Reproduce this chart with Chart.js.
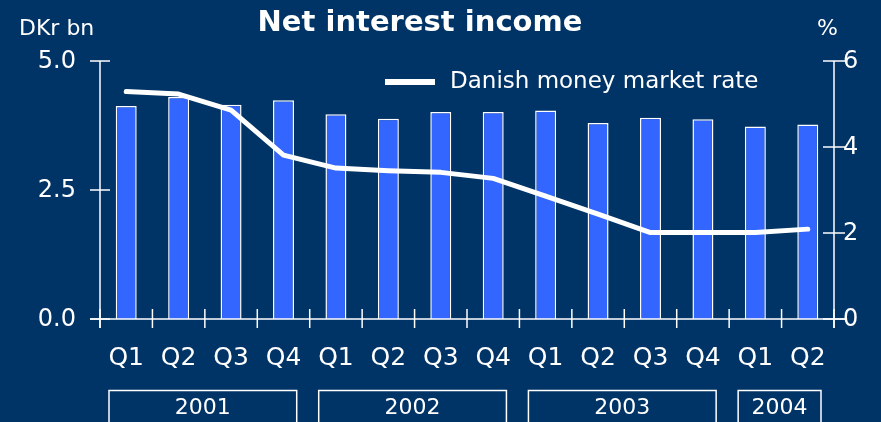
<!DOCTYPE html>
<html>
<head>
<meta charset="utf-8">
<script src="https://cdn.jsdelivr.net/npm/chart.js@4.4.1/dist/chart.umd.min.js"></script>
<style>
  html, body { margin: 0; padding: 0; background: #003366; }
  #wrap { width: 881px; height: 422px; position: relative; }
</style>
</head>
<body>
<div id="wrap"><canvas id="c"></canvas></div>
<script>
const quarters = ['Q1','Q2','Q3','Q4','Q1','Q2','Q3','Q4','Q1','Q2','Q3','Q4','Q1','Q2'];
const years = ['2001','2002','2003','2004'];
const yearSpans = [4, 4, 4, 2];
const netInterest = [4.13, 4.30, 4.15, 4.24, 3.97, 3.88, 4.01, 4.01, 4.04, 3.80, 3.90, 3.87, 3.73, 3.77];
const moneyRate = [5.29, 5.23, 4.86, 3.81, 3.51, 3.45, 3.41, 3.27, 2.86, 2.44, 2.01, 2.01, 2.01, 2.09];
const leftTicks = [0, 2.5, 5];
const rightTicks = [0, 2, 4, 6];

const C = {
  bg: '#003366',
  bar: '#3366FF',
  white: '#FFFFFF'
};
const FONT = '"DejaVu Sans", sans-serif';

// axes, ticks, labels, legend, year boxes
const Decor = {
  id: 'Decor',
  afterDraw(chart) {
    const { ctx, chartArea: a } = chart;
    const x = chart.scales.x, yl = chart.scales.y, yr = chart.scales.y2;
    ctx.save();
    ctx.strokeStyle = C.white;
    ctx.fillStyle = C.white;
    ctx.lineWidth = 1.5;

    // axis lines
    ctx.beginPath();
    ctx.moveTo(a.left, a.top); ctx.lineTo(a.left, a.bottom + 9);
    ctx.moveTo(a.right, a.top); ctx.lineTo(a.right, a.bottom + 9);
    ctx.moveTo(a.left - 10, a.bottom); ctx.lineTo(a.right + 11, a.bottom);
    ctx.stroke();

    // left ticks
    ctx.font = '24px ' + FONT;
    ctx.textBaseline = 'middle';
    ctx.textAlign = 'right';
    leftTicks.forEach(v => {
      const py = yl.getPixelForValue(v);
      ctx.beginPath(); ctx.moveTo(a.left - 10, py); ctx.lineTo(a.left + 10, py); ctx.stroke();
      ctx.fillText(v.toFixed(1), a.left - 24, py + 1);
    });

    // right ticks
    ctx.textAlign = 'left';
    rightTicks.forEach(v => {
      const py = yr.getPixelForValue(v);
      ctx.beginPath(); ctx.moveTo(a.right - 11, py); ctx.lineTo(a.right + 11, py); ctx.stroke();
      ctx.fillText(String(v), a.right + 9, py + 1);
    });

    // category boundaries + quarter labels
    const step = (a.right - a.left) / quarters.length;
    for (let i = 0; i <= quarters.length; i++) {
      const px = a.left + i * step;
      ctx.beginPath(); ctx.moveTo(px, a.bottom - 10); ctx.lineTo(px, a.bottom + 9); ctx.stroke();
    }
    ctx.font = '25px ' + FONT;
    ctx.textAlign = 'center';
    quarters.forEach((q, i) => {
      ctx.fillText(q, x.getPixelForValue(i), 358);
    });

    // year boxes
    ctx.font = '22px ' + FONT;
    let start = 0;
    years.forEach((yv, k) => {
      const n = yearSpans[k];
      const x0 = a.left + start * step + 9;
      const x1 = a.left + (start + n) * step - 13;
      ctx.strokeRect(x0, 390.5, x1 - x0, 40);
      ctx.fillText(yv, (x0 + x1) / 2, 408);
      start += n;
    });

    // unit labels
    ctx.font = '22px ' + FONT;
    ctx.textAlign = 'left';
    ctx.fillText('DKr bn', 19, 29);
    ctx.fillText('%', 817, 29);

    // title
    ctx.font = 'bold 29px ' + FONT;
    ctx.textAlign = 'center';
    ctx.fillText('Net interest income', 420, 23);

    // legend
    ctx.lineWidth = 6;
    ctx.beginPath(); ctx.moveTo(385, 82); ctx.lineTo(435, 82); ctx.stroke();
    ctx.font = '23px ' + FONT;
    ctx.textAlign = 'left';
    ctx.fillText(chart.data.datasets[1].label, 450, 82);
    ctx.restore();
  }
};

new Chart(document.getElementById('c'), {
  type: 'bar',
  data: {
    labels: quarters,
    datasets: [
      {
        type: 'bar',
        label: 'Net interest income',
        data: netInterest,
        yAxisID: 'y',
        backgroundColor: C.bar,
        borderColor: C.white,
        borderWidth: 1.5,
        barPercentage: 0.4,
        categoryPercentage: 1.0,
        order: 2
      },
      {
        type: 'line',
        label: 'Danish money market rate',
        data: moneyRate,
        yAxisID: 'y2',
        borderColor: C.white,
        borderWidth: 5,
        tension: 0,
        pointRadius: 0,
        fill: false,
        order: 1
      }
    ]
  },
  options: {
    responsive: true,
    maintainAspectRatio: false,
    animation: false,
    layout: { padding: { left: 100, right: 47, top: 61, bottom: 103 } },
    plugins: { legend: { display: false }, tooltip: { enabled: false }, title: { display: false } },
    scales: {
      x: { display: false, offset: true },
      y: { display: false, min: 0, max: 5 },
      y2: { display: false, min: 0, max: 6, position: 'right' }
    },
    elements: { line: { borderJoinStyle: 'round', borderCapStyle: 'round' } }
  },
  plugins: [Decor]
});
</script>
</body>
</html>
